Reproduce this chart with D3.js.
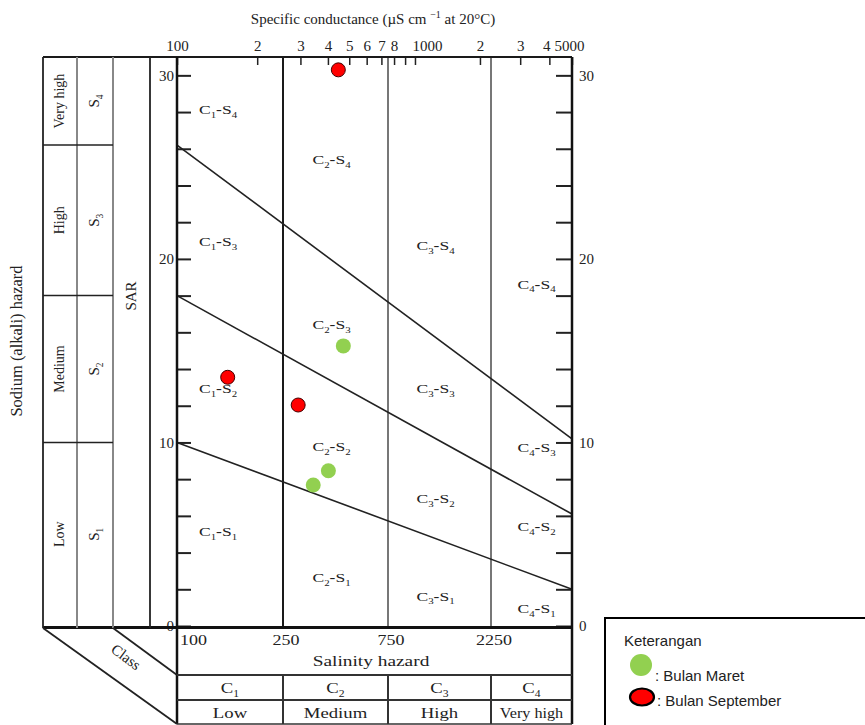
<!DOCTYPE html>
<html><head><meta charset="utf-8">
<script src="https://cdn.jsdelivr.net/npm/d3@7"></script>
<style>
body{margin:0;background:#fff;}
svg text{font-family:"Liberation Serif","Times New Roman",serif;fill:#222;}
.sans{font-family:"Liberation Sans",Arial,sans-serif !important;}
</style></head>
<body><svg id="c" width="865" height="725"></svg>
<script>
// ---- data ----
const classBreaks = [100, 250, 750, 2250, 5000];          // conductance class boundaries
const classNames = ["C1", "C2", "C3", "C4"];
const classLevels = ["Low", "Medium", "High", "Very high"];
const sodiumNames = ["S1", "S2", "S3", "S4"];
const sodiumLevels = ["Low", "Medium", "High", "Very high"];
const lineLeftSAR = [10.0, 18.0, 26.2];   // S1/S2, S2/S3, S3/S4 boundary at 100 µS/cm
const lineRightSAR = [2.0, 6.1, 10.2];    // same boundaries at 5000 µS/cm
const topTicks = [100,200,300,400,500,600,700,800,900,1000,2000,3000,4000,5000];
const topTickLabels = ["100","2","3","4","5","6","7","8","","1000","2","3","4","5000"];
const bottomTicks = [100, 250, 750, 2250];
const sarTicks = d3.range(0, 31, 2);
const sarLabels = [0, 10, 20, 30];
// region labels: class index, sodium index, SAR level of label
const regionC = [1,2,3,4, 1,2,3,4, 1,2,3,4, 1,2,3,4];
const regionS = [4,4,4,4, 3,3,3,3, 2,2,2,2, 1,1,1,1];
const regionSAR = [28.1,25.4,20.7,18.6, 20.9,16.4,12.9,9.7, 12.9,9.75,6.9,5.4, 5.1,2.6,1.6,0.9];
// samples
const maretCond = [470, 402, 343];
const maretSAR = [15.26, 8.46, 7.68];
const septCond = [446, 155, 293];
const septSAR = [30.3, 13.55, 12.04];

// ---- scales ----
const x = d3.scaleLog().domain(classBreaks).range([177, 283, 388, 491, 572]);
const y = d3.scaleLinear().domain([0, 31]).range([626, 57]);
const svg = d3.select("#c");
const X0 = x(100), X1 = x(5000), Y0 = y(0), YT = y(31);

function sub(sel, base, s, size){
  sel.append("tspan").text(base);
  sel.append("tspan").attr("font-size", size*0.62).attr("dy", size*0.28).text(s);
}
function cs(sel, c, s, size){
  sel.append("tspan").text("C");
  sel.append("tspan").attr("font-size", size*0.62).attr("dy", size*0.28).text(c);
  sel.append("tspan").attr("dy", -size*0.28).attr("font-weight", "bold").text("-");
  sel.append("tspan").text("S");
  sel.append("tspan").attr("font-size", size*0.62).attr("dy", size*0.28).text(s);
}
// horizontally stretched text (the scanned original is wide)
function htext(px, py, size, sx, anchor){
  return svg.append("g").attr("transform", `translate(${px},${py}) scale(${sx},1)`)
    .append("text").attr("text-anchor", anchor || "middle").attr("font-size", size);
}

// vertical class lines
const inner = classBreaks.slice(1, 4);
svg.selectAll(".vl").data(inner).join("line")
  .attr("x1", d => x(d)).attr("x2", d => x(d)).attr("y1", YT).attr("y2", Y0)
  .attr("stroke", (d,i) => i === 0 ? "#1a1a1a" : "#777").attr("stroke-width", 2);

// sloped boundaries
svg.selectAll(".sl").data(lineLeftSAR).join("line")
  .attr("x1", X0).attr("y1", d => y(d))
  .attr("x2", X1).attr("y2", (d,i) => y(lineRightSAR[i]))
  .attr("stroke", "#222").attr("stroke-width", 1.6);

// top axis
const topAxis = d3.axisTop(x).tickValues(topTicks)
  .tickFormat((d,i) => topTickLabels[i]).tickSizeInner(-8).tickSizeOuter(0).tickPadding(6);
const ta = svg.append("g").attr("transform", `translate(0,${YT})`).call(topAxis);
ta.select(".domain").remove();
ta.selectAll("line").attr("stroke", "#222").attr("stroke-width", 1.5);
ta.selectAll("text").attr("font-size", 15).attr("font-family", "Liberation Serif").attr("fill", "#222");
ta.selectAll("text").filter(d => d === 1000).attr("text-anchor", "start").attr("dx", -3);
ta.selectAll("text").filter(d => d === 4000).attr("dx", -3);
ta.selectAll("text").filter(d => d === 5000).attr("text-anchor", "start").attr("dx", -18);

svg.append("text").attr("x", 373).attr("y", 24).attr("text-anchor", "middle").attr("font-size", 15)
  .call(s => { s.append("tspan").text("Specific conductance (µS cm ");
    s.append("tspan").attr("font-size", 10).attr("dy", -6).text("−1");
    s.append("tspan").attr("dy", 6).text(" at 20°C)"); });

// left axis
const la = svg.append("g").attr("transform", `translate(${X0},0)`)
  .call(d3.axisLeft(y).tickValues(sarTicks).tickFormat(d => sarLabels.includes(d) ? d : "")
    .tickSizeInner(-14).tickSizeOuter(0).tickPadding(3));
la.select(".domain").remove();
la.selectAll("line").attr("stroke", "#222").attr("stroke-width", 2);
la.selectAll("text").attr("font-size", 15).attr("font-family", "Liberation Serif").attr("fill", "#444");

// right axis
const ra = svg.append("g").attr("transform", `translate(${X1},0)`)
  .call(d3.axisRight(y).tickValues(sarTicks).tickFormat(d => sarLabels.includes(d) ? d : "")
    .tickSizeInner(-16).tickSizeOuter(0).tickPadding(7));
ra.select(".domain").remove();
ra.selectAll("line").attr("stroke", "#222").attr("stroke-width", 2);
ra.selectAll("text").attr("font-size", 15).attr("font-family", "Liberation Serif").attr("fill", "#444");

// frame of plot
svg.append("line").attr("x1", 43).attr("x2", X1).attr("y1", YT).attr("y2", YT).attr("stroke", "#1a1a1a").attr("stroke-width", 2);
svg.append("line").attr("x1", 43).attr("x2", X1 + 1).attr("y1", Y0 + 1.5).attr("y2", Y0 + 1.5).attr("stroke", "#111").attr("stroke-width", 3);
svg.append("line").attr("x1", X0).attr("x2", X0).attr("y1", YT).attr("y2", 724).attr("stroke", "#111").attr("stroke-width", 2.5);
svg.append("line").attr("x1", X1).attr("x2", X1).attr("y1", YT).attr("y2", 724).attr("stroke", "#111").attr("stroke-width", 2.5);

// left panels
const panelX = [43, 77, 113, 150];
svg.selectAll(".pv").data(panelX).join("line")
  .attr("x1", d => d).attr("x2", d => d).attr("y1", YT).attr("y2", Y0 + 2)
  .attr("stroke", (d,i) => (i === 1 || i === 2) ? "#888" : "#222").attr("stroke-width", (d,i) => (i === 1 || i === 2) ? 2 : 1.8);
svg.selectAll(".ph").data(lineLeftSAR).join("line")
  .attr("x1", 43).attr("x2", 113).attr("y1", d => y(d)).attr("y2", d => y(d))
  .attr("stroke", "#222").attr("stroke-width", 1.5);
const bandEdges = [0, ...lineLeftSAR, 31];
const bandMid = d3.range(4).map(i => (y(bandEdges[i]) + y(bandEdges[i+1])) / 2);
sodiumLevels.forEach((t, i) => {
  svg.append("text").attr("transform", `translate(64,${bandMid[i]}) rotate(-90)`)
    .attr("text-anchor", "middle").attr("font-size", 14).text(t);
  svg.append("text").attr("transform", `translate(99,${bandMid[i]}) rotate(-90)`)
    .attr("text-anchor", "middle").attr("font-size", 15)
    .call(s => sub(s, "S", sodiumNames[i].slice(1), 15));
});
svg.append("text").attr("transform", `translate(136,296) rotate(-90)`).attr("text-anchor", "middle")
  .attr("font-size", 15).text("SAR");
svg.append("text").attr("transform", `translate(22,341) rotate(-90)`).attr("text-anchor", "middle")
  .attr("font-size", 16.5).text("Sodium (alkali) hazard");

// region labels
regionC.forEach((c, i) => {
  const cx = (x(classBreaks[c-1]) + x(classBreaks[c])) / 2 + (c === 1 ? -12 : c === 4 ? 5 : -4);
  htext(cx, y(regionSAR[i]) + 4, 13.5, 1.3).call(s => cs(s, c, regionS[i], 13.5));
});

// bottom table
const rowA = 675, rowB = 700, rowEnd = 724;
[rowA, rowB].forEach(r => svg.append("line").attr("x1", X0).attr("x2", X1).attr("y1", r).attr("y2", r)
  .attr("stroke", "#333").attr("stroke-width", 2));
svg.append("line").attr("x1", X0).attr("x2", X1).attr("y1", rowEnd).attr("y2", rowEnd).attr("stroke", "#333").attr("stroke-width", 1.5);
svg.selectAll(".bv").data(inner).join("line")
  .attr("x1", d => x(d)).attr("x2", d => x(d)).attr("y1", rowA).attr("y2", rowEnd)
  .attr("stroke", "#333").attr("stroke-width", 2);
bottomTicks.forEach(d => {
  htext(d === 100 ? x(d) + 3 : x(d) + 3, 645, 15, 1.2, d === 100 ? "start" : "middle")
    .attr("fill", "#444").text(d);
});
htext(371, 666, 15.5, 1.25).text("Salinity hazard");
classNames.forEach((c, i) => {
  const cx = (x(classBreaks[i]) + x(classBreaks[i+1])) / 2;
  htext(cx, 693, 15, 1.25).call(s => sub(s, "C", c.slice(1), 15));
  htext(cx, 718, 15, i === 3 ? 1.08 : 1.25).text(classLevels[i]);
});
// Class diagonals
svg.append("line").attr("x1", 43).attr("y1", Y0 + 2).attr("x2", X0).attr("y2", rowEnd).attr("stroke", "#222").attr("stroke-width", 1.8);
svg.append("line").attr("x1", 113).attr("y1", Y0 + 2).attr("x2", X0).attr("y2", rowA).attr("stroke", "#222").attr("stroke-width", 1.8);
svg.append("text").attr("transform", "translate(123,661) rotate(37)").attr("text-anchor", "middle")
  .attr("font-size", 15).text("Class");

// samples
svg.selectAll(".gm").data(maretCond).join("circle")
  .attr("cx", d => x(d)).attr("cy", (d,i) => y(maretSAR[i])).attr("r", 7.5).attr("fill", "#92d050");
svg.selectAll(".rs").data(septCond).join("circle")
  .attr("cx", d => x(d)).attr("cy", (d,i) => y(septSAR[i])).attr("r", 7).attr("fill", "#ff0000")
  .attr("stroke", "#400").attr("stroke-width", 1);

// legend
const lg = svg.append("g");
lg.append("rect").attr("x", 605).attr("y", 618).attr("width", 270).attr("height", 120)
  .attr("fill", "#fff").attr("stroke", "#000").attr("stroke-width", 2);
lg.append("text").attr("class", "sans").attr("x", 624).attr("y", 646).attr("font-size", 15).attr("fill", "#000").text("Keterangan");
lg.append("circle").attr("cx", 641).attr("cy", 665).attr("r", 11).attr("fill", "#92d050");
lg.append("text").attr("class", "sans").attr("x", 655).attr("y", 681).attr("font-size", 15).attr("fill", "#000").text(": Bulan Maret");
lg.append("ellipse").attr("cx", 642).attr("cy", 697).attr("rx", 12).attr("ry", 8.5).attr("fill", "#ff0000")
  .attr("stroke", "#000").attr("stroke-width", 2.2);
lg.append("text").attr("class", "sans").attr("x", 657).attr("y", 706).attr("font-size", 15).attr("fill", "#000").text(": Bulan September");
</script></body></html>
